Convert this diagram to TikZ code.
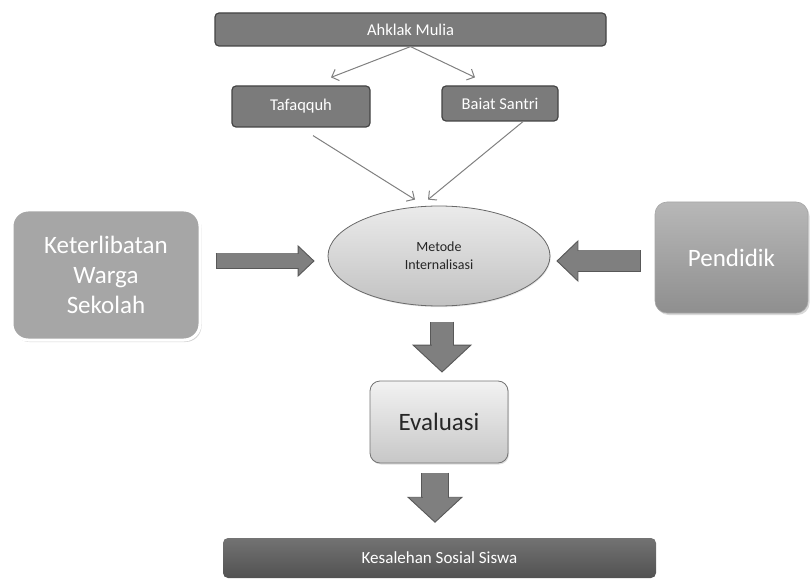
\documentclass[tikz,border=0pt]{standalone}
\usepackage{fontspec}
\setmainfont{Carlito}
\usepackage{tikz}
\usepackage{xcolor}
\usetikzlibrary{shapes.geometric, arrows.meta, positioning, calc, shadows}
\definecolor{cBox}{RGB}{123,123,123}
\definecolor{cBoxEdge}{RGB}{68,68,68}
\definecolor{cSide}{RGB}{166,166,166}
\definecolor{cInk}{RGB}{38,38,38}
\definecolor{cArrow}{RGB}{127,127,127}
\definecolor{cArrowEdge}{RGB}{88,88,88}
\definecolor{cLine}{RGB}{128,128,128}
\tikzset{
	topbox/.style   ={rectangle, rounded corners=4pt, draw=cBoxEdge, line width=1.2pt, fill=cBox, text=white, align=center, font=\fontsize{16.5}{19}\selectfont},
	metodebox/.style={ellipse, draw=cBoxEdge!80, line width=0.8pt, top color=black!8, bottom color=black!24, text=cInk, align=center, inner sep=0pt, drop shadow={shadow xshift=0.8pt, shadow yshift=-1.2pt, opacity=0.2}, font=\fontsize{14}{18}\selectfont},
	sidebox/.style  ={rectangle, rounded corners=16pt, draw=white, line width=3pt, fill=cSide, text=white, align=center, drop shadow={shadow xshift=1.5pt, shadow yshift=-2pt, opacity=0.35}, font=\fontsize{25}{30}\selectfont},
	guru/.style     ={rectangle, rounded corners=12pt, draw=black!35, line width=0.6pt, top color=black!28, bottom color=black!44, text=white, align=center, drop shadow={shadow xshift=1.5pt, shadow yshift=-2pt, opacity=0.3}, font=\fontsize{25}{31}\selectfont},
	evalbox/.style  ={rectangle, rounded corners=10pt, draw=black!55, line width=0.8pt, top color=black!5, bottom color=black!22, text=cInk, align=center, drop shadow={shadow xshift=1pt, shadow yshift=-1.5pt, opacity=0.25}, font=\fontsize{25}{31}\selectfont},
	hasil/.style    ={rectangle, rounded corners=5pt, top color=black!55, bottom color=black!68, text=white, align=center, font=\fontsize{17}{20}\selectfont},
	thinarrow/.style={-{Straight Barb[length=6pt, width=12pt]}, draw=cLine, line width=1pt},
	% block arrows: shaft width, head length, head width
	fatarrow/.style n args={3}{draw=cArrow, line width=#1, -{Triangle[length=#2, width=#3, line width=0.9pt, color=cArrowEdge, fill=cArrow]},
		preaction={-, draw=cArrowEdge, line width=#1+1.8pt, shorten <=-0.9pt, shorten >=#2*0.6},
		postaction={-, draw=cArrow, line width=#1-1pt, shorten >=#2-1pt}},
}
\begin{document}
\begin{tikzpicture}[x=1pt, y=-1pt]
	\useasboundingbox (0,0) rectangle (811,585);
	% top row
	\node[topbox, minimum width=391pt, minimum height=33pt] (ahklak) at (410.5,29.5) {Ahklak Mulia};
	\node[topbox, minimum width=138pt, minimum height=41pt] (tafaqquh) at (301,106.5) {Tafaqquh};
	\node[topbox, minimum width=116pt, minimum height=35pt] (baiat) at (500,103.5) {Baiat Santri};
	% middle row
	\node[metodebox, minimum width=222pt, minimum height=100pt] (metode) at (439,256) {Metode\\Internalisasi};
	\node[sidebox, minimum width=188pt, minimum height=130pt] (warga) at (106,275) {Keterlibatan\\Warga\\Sekolah};
	\node[guru, minimum width=153pt, minimum height=111pt] (pendidik) at (731.5,257.5) {Pendidik};
	% bottom
	\node[evalbox, minimum width=138pt, minimum height=82pt] (evaluasi) at (439,422) {Evaluasi};
	\node[hasil, minimum width=433pt, minimum height=40pt] (kesalehan) at (439.5,558) {Kesalehan Sosial Siswa};

	\draw[thinarrow] (ahklak.south) -- ($(tafaqquh.north)+(30,-8)$);
	\draw[thinarrow] (ahklak.south) -- ($(baiat.north)+(-25,-8)$);
	\draw[thinarrow] ($(tafaqquh.south)+(12,8)$) -- ($(metode.north)+(-24,-6)$);
	\draw[thinarrow] ($(baiat.south)+(23,0)$) -- ($(metode.north)+(-11,-6)$);

	\draw[fatarrow={15pt}{17pt}{32pt}] ($(warga.east |- metode.west)+(15,5)$) -- ($(metode.west)+(-13,5)$);
	\draw[fatarrow={21pt}{22pt}{42pt}] ($(pendidik.west |- metode.east)+(-15,5)$) -- ($(metode.east)+(6,5)$);
	\draw[fatarrow={22pt}{28pt}{60pt}] ($(metode.south)+(3,16)$) -- ($(evaluasi.north)+(3,-8)$);
	\draw[fatarrow={26pt}{26pt}{56pt}] ($(evaluasi.south)+(-4,10)$) -- ($(kesalehan.north)+(-4.5,-15)$);
\end{tikzpicture}
\end{document}
